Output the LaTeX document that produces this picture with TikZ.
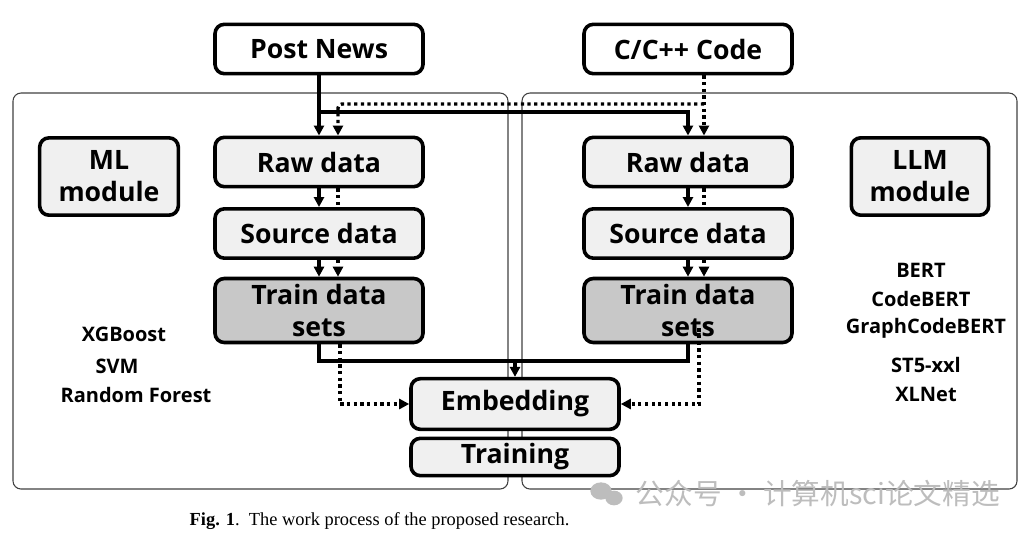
\documentclass[tikz,border=0pt]{standalone}
\usepackage{fontspec}
\setmainfont{Open Sans}
\newfontfamily\capfont{Liberation Serif}
\newfontfamily\cjkfont{Noto Sans CJK SC}
\usetikzlibrary{arrows.meta}
\definecolor{boxgray}{HTML}{F0F0F0}
\definecolor{traingray}{HTML}{C8C8C8}
\definecolor{panelgray}{HTML}{404040}
\definecolor{markgray}{HTML}{BDBDBD}

\begin{document}
\begin{tikzpicture}[x=0.75pt, y=-0.75pt,
    box/.style={draw, line width=2.7pt, rounded corners=7pt, fill=boxgray, align=center, inner sep=0pt,
        minimum width=156pt, minimum height=37pt, font=\fontsize{20}{24}\selectfont\bfseries},
    inbox/.style={box, fill=white},
    trainbox/.style={box, fill=traingray, minimum height=48pt},
    panel/.style={draw=panelgray, line width=0.8pt, rounded corners=6pt},
    modeltext/.style={font=\fontsize{15}{17}\selectfont\bfseries},
    solidline/.style={line width=2.4pt},
    dotline/.style={line width=2.6pt, dash pattern=on 2.4pt off 2.6pt},
    >={Triangle[width=7.5pt,length=7.5pt]}]
    \useasboundingbox (0,0) rectangle (1026,537);
    % two panels
    \draw [panel] (13,93) rectangle (508,489);
    \draw [panel] (522,93) rectangle (1017,489);
    % inputs
    \node (post) at (319,49) [inbox] {Post News};
    \node (code) at (688,49) [inbox] {C/C++ Code};
    % left column
    \node (rawL) at (319,162) [box] {Raw data};
    \node (srcL) at (319,233.5) [box] {Source data};
    \node (trainL) at (319,310.5) [trainbox] {Train data\\sets};
    % right column
    \node (rawR) at (688,162) [box] {Raw data};
    \node (srcR) at (688,233.5) [box] {Source data};
    \node (trainR) at (688,310.5) [trainbox] {Train data\\sets};
    % modules
    \node (ml) at (109,176.5) [box, minimum width=104pt, minimum height=58pt] {ML\\module};
    \node (llm) at (920,176.5) [box, minimum width=103pt, minimum height=58pt] {LLM\\module};
    \node (embed) at (515,404) [box, minimum height=38pt] {Embedding};
    \node (training) at (515,457) [box, minimum height=28pt] {Training};
    % model names
    \node (xgb) at (124,334) [modeltext] {XGBoost};
    \node (svm) at (117,366) [modeltext] {SVM};
    \node (rf) at (136,395) [modeltext] {Random Forest};
    \node (bert) at (921,270) [modeltext] {BERT};
    \node (cbert) at (921,299) [modeltext] {CodeBERT};
    \node (gcbert) at (926,328) [modeltext] {GraphCodeBERT};
    \node (st5) at (926,365) [modeltext] {ST5-xxl};
    \node (xlnet) at (926,394) [modeltext] {XLNet};
    % solid path (Post News)
    \coordinate (split) at (319,112);
    \draw [solidline, ->] (post) -- (rawL);
    \draw [solidline, ->] (split) -| (rawR.north);
    \draw [solidline, ->] (rawL) -- (srcL);
    \draw [solidline, ->] (srcL) -- (trainL);
    \draw [solidline, ->] (rawR) -- (srcR);
    \draw [solidline, ->] (srcR) -- (trainR);
    \coordinate (merge) at (515,361);
    \draw [solidline] (trainL.south) |- (merge) -| (trainR.south);
    \draw [solidline, ->] (merge) -- (embed.north);
    % dotted path (C/C++ Code)
    \coordinate (dsplit) at (704,104);
    \draw [dotline, ->] ([xshift=12pt]code.south) -- ([xshift=12pt]rawR.north);
    \draw [dotline, ->, rounded corners=3pt] (dsplit) -| ([xshift=14.25pt]rawL.north);
    \draw [dotline] ([xshift=14.25pt]rawL.south) -- ([xshift=14.25pt]srcL.north);
    \draw [dotline] ([xshift=12pt]rawR.south) -- ([xshift=12pt]srcR.north);
    \draw [dotline, ->] ([xshift=14.25pt]srcL.south) -- ([xshift=14.25pt]trainL.north);
    \draw [dotline, ->] ([xshift=12pt]srcR.south) -- ([xshift=12pt]trainR.north);
    \draw [dotline, ->] ([xshift=15.75pt]trainL.south) |- (embed.west);
    \draw [dotline, ->] ([xshift=8.25pt,yshift=12pt]trainR.south) |- (embed.east);
    % caption and mark
    \node (cap) at (185,521) [anchor=west, font=\capfont\fontsize{13.8}{15}\selectfont] {\textbf{Fig. 1}.\ \ The work process of the proposed research.};
    \fill [markgray] (601,491) ellipse (8pt and 6.5pt);
    \fill [markgray] (614,498) ellipse (6.5pt and 5.5pt);
    \node (mark) at (631,494) [anchor=west, text=markgray, font=\cjkfont\fontsize{21.5}{23}\selectfont] {公众号 · 计算机sci论文精选};
\end{tikzpicture}
\end{document}
